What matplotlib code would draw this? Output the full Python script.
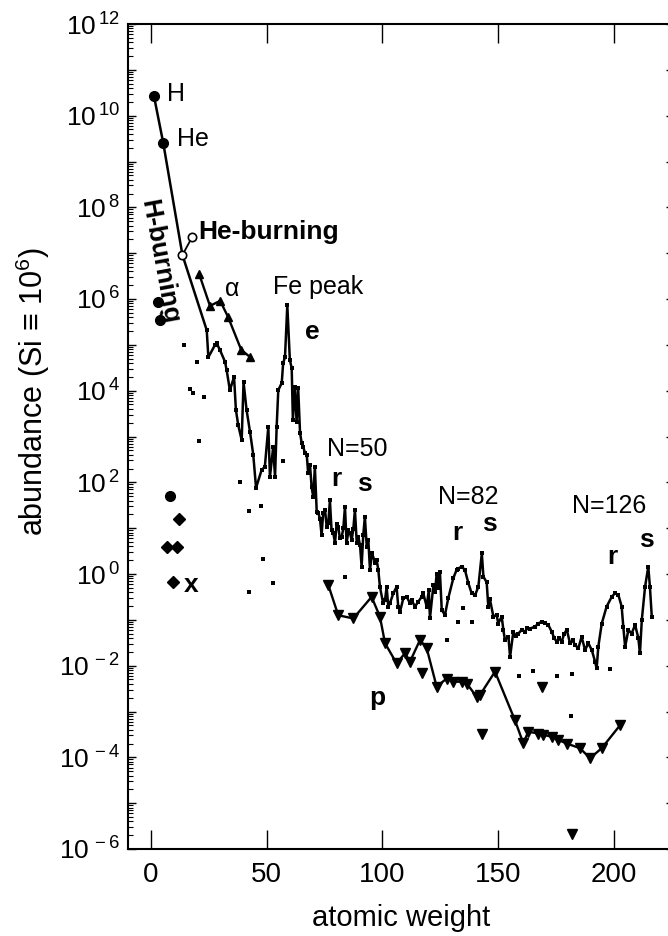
import numpy as np
import matplotlib
matplotlib.use("Agg")
import matplotlib.pyplot as plt
import matplotlib.ticker as mticker

plt.rcParams.update({
    "font.family": ["Liberation Sans", "DejaVu Sans"],
    "mathtext.fontset": "custom",
    "mathtext.rm": "Liberation Sans",
    "mathtext.it": "Liberation Sans:italic",
    "mathtext.bf": "Liberation Sans:bold",
    "axes.linewidth": 1.5,
})

# ── Solar abundances, log10 (Si = 1e6) vs atomic weight ─────────────────────
main_A = [1.3, 5.3, 13.6, 24.1, 24.8, 27.6, 28.4, 29.8, 32.0, 32.7, 34.1, 35.9,
          36.7, 37.7, 39.2, 40.0, 41.3, 42.8, 44.2, 45.4, 47.8, 49.2, 50.7, 51.4,
          52.8, 53.6, 54.3, 55.0, 56.5, 57.1, 57.9, 58.9, 60.0, 60.8, 61.3, 62.2,
          62.9, 63.6, 64.4, 65.1, 65.8, 66.5, 67.3, 67.9, 68.7, 69.4, 70.1, 70.8,
          71.6, 72.3, 73.0, 73.7, 74.4, 75.2, 75.9, 76.6, 77.3, 78.0, 78.8, 79.5,
          80.2, 80.9, 81.6, 82.4, 83.1, 83.8, 84.5, 85.3, 86.0, 86.7, 87.4, 88.1,
          88.9, 89.6, 90.3, 91.0, 91.7, 92.4, 93.2, 93.9, 94.6, 95.5, 96.8, 97.5,
          98.2, 98.9, 100.3, 101.1, 101.8, 102.5, 103.2, 104.7, 106.1, 106.8, 107.6,
          109.0, 110.5, 111.9, 112.6, 114.0, 115.5, 116.9, 117.6, 119.1, 120.0,
          120.5, 122.0, 122.7, 123.4, 124.1, 124.8, 125.6, 127.0, 128.4, 130.6,
          132.0, 132.7, 134.2, 135.6, 137.1, 138.5, 140.0, 141.4, 142.9, 143.6,
          145.0, 145.7, 146.4, 147.9, 149.3, 150.0, 151.5, 152.2, 152.9, 154.4,
          155.1, 156.5, 157.6, 158.7, 160.1, 161.6, 162.6, 163.7, 165.9, 167.3,
          168.8, 170.2, 171.6, 173.1, 174.2, 175.3, 176.3, 177.4, 178.5, 179.6,
          181.0, 182.1, 183.2, 184.6, 186.0, 187.5, 188.9, 190.4, 191.8, 192.5,
          193.2, 194.7, 196.8, 199.0, 200.4, 201.9, 203.3, 204.0, 204.8, 206.2,
          207.6, 209.1, 210.5, 211.2, 212.0, 213.4, 214.8, 215.5, 216.3]
main_log = [10.43, 9.41, 6.96, 5.32, 4.73, 4.99, 5.03, 4.89, 4.63, 4.45, 4.01, 4.30,
            3.58, 3.25, 2.92, 4.19, 3.58, 3.10, 2.60, 1.88, 2.27, 2.34, 3.21, 2.12,
            2.77, 2.12, 3.21, 4.01, 4.17, 4.60, 4.73, 5.87, 4.67, 4.49, 3.36, 4.08,
            3.32, 4.05, 3.08, 2.86, 2.78, 2.64, 2.60, 2.20, 2.38, 1.90, 1.68, 2.34,
            1.36, 1.33, 1.21, 0.85, 1.33, 1.40, 1.03, 1.11, 1.61, 0.96, 0.89, 0.67,
            1.10, 1.03, 0.78, 0.81, 1.00, 1.47, 0.67, 0.95, 0.89, 0.74, 0.98, 1.40,
            0.67, 0.80, 0.63, 0.16, 0.85, 1.25, 0.60, 0.74, 0.09, 0.45, 0.25, 0.30,
            0.09, -0.28, -0.64, -0.57, -0.28, -0.71, -0.64, -0.42, -0.28, -0.71, -0.82,
            -0.53, -0.50, -0.64, -0.57, -0.71, -0.60, -0.50, -0.42, -0.71, -0.35,
            -0.97, -0.24, -0.39, 0.01, -0.30, 0.05, -0.79, -0.89, -0.53, -0.09,
            0.09, 0.12, 0.16, 0.09, -0.20, -0.42, -0.46, -0.28, 0.45, -0.06,
            -0.18, -0.71, -0.55, -0.93, -0.89, -1.08, -0.93, -1.22, -1.44, -1.37,
            -1.81, -1.26, -1.35, -1.30, -1.22, -1.26, -1.17, -1.19, -1.15, -1.08,
            -1.04, -1.07, -1.11, -1.26, -1.40, -1.48, -1.40, -1.48, -1.30, -1.22,
            -1.51, -1.45, -1.55, -1.62, -1.37, -1.66, -1.51, -1.66, -1.91, -2.06,
            -1.59, -1.08, -0.71, -0.50, -0.42, -0.46, -0.71, -1.15, -1.59, -1.22,
            -1.30, -1.11, -1.40, -1.73, -1.00, -0.28, 0.16, -0.28, -0.93]

# H and He (big dots on the H-burning line)
hhe_A = [1.3, 5.3]
hhe_log = [10.43, 9.41]

# He-burning products 12C, 16O
heb_A = [13.6, 17.8]
heb_log = [6.96, 7.35]

# alpha-nuclei chain
alpha_A = [20.8, 25.5, 29.9, 33.3, 39.0, 42.9]
alpha_log = [6.55, 5.85, 5.96, 5.61, 4.89, 4.73]

# p-process nuclei
p_A = [76.6, 80.9, 87.4, 95.3, 98.9, 101.1, 106.1, 109.7, 111.9, 116.2, 119.1,
       123.4, 127.7, 130.6, 134.2, 136.4, 140.7, 142.1, 148.6, 157.2, 160.8,
       163.0, 167.3, 169.5, 173.1, 176.0, 179.6, 185.3, 189.6, 194.7, 202.6]
p_log = [-0.24, -0.90, -0.97, -0.50, -0.93, -1.51, -1.95, -1.73, -1.91, -1.44, -1.62,
         -2.46, -2.28, -2.35, -2.35, -2.39, -2.68, -2.64, -2.13, -3.19, -3.69,
         -3.44, -3.48, -3.51, -3.55, -3.62, -3.70, -3.80, -4.02, -3.80, -3.30]
p_single_A = [116.9, 142.9, 168.8, 182.0]
p_single_log = [-2.17, -3.48, -2.46, -5.67]

# minor isotopes, not on any chain
minor_A = [14.4, 19.7, 16.8, 18.3, 22.9, 20.7, 38.4, 42.3, 47.4, 56.9, 48.5, 42.3,
           52.6, 83.8, 134.9, 132.7, 138.5, 127.7, 159.1, 165.1, 175.5, 181.7,
           181.4, 198.3]
minor_log = [5.00, 4.63, 4.03, 3.94, 3.86, 2.90, 2.00, 1.38, 1.49, 2.46, 0.33, -0.40,
             -0.19, -0.06, -0.75, -1.04, -1.04, -1.43, -2.23, -2.11, -2.22, -2.19,
             -3.10, -2.07]

# D, 3He, 7Li
big_A = [2.9, 3.9, 8.2]
big_log = [5.94, 5.54, 1.70]

# x-process: 6Li, 9Be, 10B, 11B
xproc_A = [6.8, 9.6, 11.1, 12.2]
xproc_log = [0.59, -0.18, 0.59, 1.21]


def abund(logs):
    return 10.0 ** np.asarray(logs)


fig = plt.figure(figsize=(6.68, 9.36), dpi=100)
ax = fig.add_axes([128 / 668, 87 / 936, 546 / 668, 825 / 936])
ax.set_yscale("log")

ax.plot(main_A, abund(main_log), "-", color="k", lw=1.8,
        marker="s", ms=3.2, mew=0, zorder=3)
ax.plot(hhe_A, abund(hhe_log), "o", color="k", ms=7, zorder=4)
ax.plot(heb_A, abund(heb_log), "-o", color="k", lw=1.3, ms=6,
        mfc="white", mew=1.2, zorder=5)
ax.plot(alpha_A, abund(alpha_log), "-^", color="k", lw=1.7, ms=6, zorder=4)
ax.plot(p_A, abund(p_log), "-v", color="k", lw=1.7, ms=6.5, zorder=4)
ax.plot(p_single_A, abund(p_single_log), "v", color="k", ms=6.5, ls="none")
ax.plot(minor_A, abund(minor_log), "s", color="k", ms=3.4, mew=0, ls="none")
ax.plot(big_A, abund(big_log), "o", color="k", ms=7, ls="none")
ax.plot(xproc_A, abund(xproc_log), "D", color="k", ms=5.8, ls="none")

# ── Axes ─────────────────────────────────────────────────────────────────────
ax.set_xlim(-9.9, 225.9)
ax.set_ylim(1e-6, 1e12)
ax.xaxis.set_major_locator(mticker.MultipleLocator(50))
ax.tick_params(axis="x", which="major", direction="in", length=14, width=1.0,
               top=True, labelsize=20, pad=9)
ax.yaxis.set_major_locator(mticker.LogLocator(base=10, numticks=40))
ax.yaxis.set_minor_locator(mticker.LogLocator(base=10, subs=np.arange(2, 10), numticks=40))


def _exp_fmt(v, _):
    e = int(round(np.log10(v)))
    return rf"$\mathregular{{10^{{\,{e}}}}}$" if e % 2 == 0 else ""


ax.yaxis.set_major_formatter(mticker.FuncFormatter(_exp_fmt))
ax.yaxis.set_minor_formatter(mticker.NullFormatter())
ax.tick_params(axis="y", which="major", direction="in", length=6, width=1.0,
               right=True, labelsize=19, pad=6)
ax.tick_params(axis="y", which="minor", direction="in", length=3.5, width=0.8, right=True)

ax.set_xlabel("atomic weight", fontsize=21)
ax.xaxis.set_label_coords(0.5, -0.0836)
ax.xaxis.label.set_va("center")
ax.set_ylabel(r"abundance (Si ≡ $\mathregular{10^{6}}$)", fontsize=22)
ax.yaxis.set_label_coords(-0.174, 0.555)
ax.yaxis.label.set_va("center")

# ── Annotations ──────────────────────────────────────────────────────────────
txt = dict(fontsize=18, color="k")
bold = dict(fontsize=19, color="k", fontweight="bold")
ax.text(6.9, 10 ** 10.47, "H", ha="left", va="center", **txt)
ax.text(11.2, 10 ** 9.49, "He", ha="left", va="center", **txt)
ax.text(20.3, 10 ** 7.46, "He-burning", ha="left", va="center", **bold)
ax.text(3.9, 10 ** 6.81, "H-burning", ha="center", va="center",
        rotation=-79.5, rotation_mode="anchor", **bold)
ax.text(35.0, 10 ** 6.22, "α", ha="center", va="center", **txt)
ax.text(52.7, 10 ** 6.26, "Fe peak", ha="left", va="center", **txt)
ax.text(69.5, 10 ** 5.28, "e", ha="center", va="center", **bold)
ax.text(76.0, 10 ** 2.73, "N=50", ha="left", va="center", **txt)
ax.text(80.0, 10 ** 2.07, "r", ha="center", va="center", **bold)
ax.text(92.4, 10 ** 1.96, "s", ha="center", va="center", **bold)
ax.text(124.0, 10 ** 1.68, "N=82", ha="left", va="center", **txt)
ax.text(132.2, 10 ** 0.89, "r", ha="center", va="center", **bold)
ax.text(146.0, 10 ** 1.09, "s", ha="center", va="center", **bold)
ax.text(181.7, 10 ** 1.48, "N=126", ha="left", va="center", **txt)
ax.text(199.1, 10 ** 0.37, "r", ha="center", va="center", **bold)
ax.text(214.2, 10 ** 0.74, "s", ha="center", va="center", **bold)
ax.text(97.6, 10 ** -2.71, "p", ha="center", va="center", **bold)
ax.text(17.3, 10 ** -0.24, "x", ha="center", va="center", **bold)

fig.savefig("out.png", dpi=100)
